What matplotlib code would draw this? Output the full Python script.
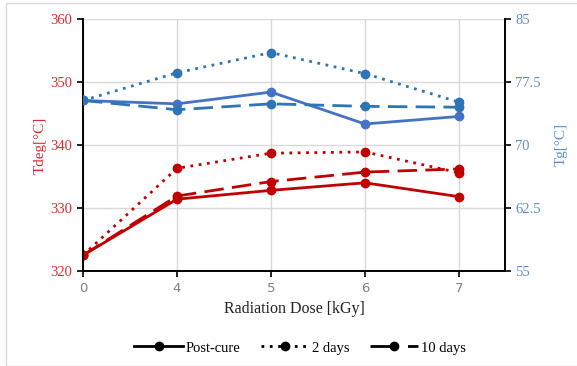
import matplotlib
matplotlib.use("Agg")
import matplotlib.pyplot as plt
from matplotlib.lines import Line2D
from matplotlib.patches import Rectangle

doses = ["0", "4", "5", "6", "7"]
tdeg_postcure = [322.5, 331.4, 332.8, 334.0, 331.8]
tdeg_2days = [322.5, 336.3, 338.7, 338.9, 335.6]
tdeg_10days = [322.5, 331.9, 334.2, 335.7, 336.2]
tg_postcure = [75.3, 74.9, 76.3, 72.5, 73.4]
tg_2days = [75.3, 78.6, 81.0, 78.5, 75.1]
tg_10days = [75.3, 74.2, 74.9, 74.6, 74.5]
left_ticks = [320, 330, 340, 350, 360]
right_ticks = [55, 62.5, 70, 77.5, 85]
right_tick_labels = ["55", "62.5", "70", "77.5", "85"]
legend_labels = ["Post-cure", "2 days", "10 days"]

SERIF = "Liberation Serif"
RED = "#C00000"
RED_TXT = "#E0282E"
BLUE1 = "#4472C4"
BLUE2 = "#2E75B6"
BLUE_TXT = "#5B8FCB"

fig = plt.figure(figsize=(5.77, 3.66), dpi=100)
fig.patches.append(Rectangle((6/577, 0), 1, 1 - 2.5/366, transform=fig.transFigure,
                             fill=False, edgecolor="#D9D9D9", lw=1.0))
ax = fig.add_axes([83/577, 1 - 271/366, (505 - 83)/577, (271 - 19)/366])
ax2 = ax.twinx()

x = list(range(len(doses)))
ms = 6
lw = 2.0
ax.plot(x, tdeg_postcure, color=RED, lw=lw, marker="o", ms=ms, zorder=3)
ax.plot(x, tdeg_2days, color=RED, lw=lw, ls=(0, (1, 2)), marker="o", ms=ms, zorder=3)
ax.plot(x, tdeg_10days, color=RED, lw=lw, ls=(0, (7, 3)), marker="o", ms=ms, zorder=3)
ax2.plot(x, tg_postcure, color=BLUE1, lw=lw, marker="o", ms=ms, zorder=3)
ax2.plot(x, tg_2days, color=BLUE2, lw=lw, ls=(0, (1, 2)), marker="o", ms=ms, zorder=3)
ax2.plot(x, tg_10days, color=BLUE2, lw=lw, ls=(0, (7, 3)), marker="o", ms=ms, zorder=3)

ax.set_xlim(0, 4.49)
ax.set_ylim(320, 360)
ax2.set_ylim(55, 85)
ax.set_xticks(x)
ax.set_xticklabels(doses, color="#808080", fontsize=9.5, family="DejaVu Sans")
ax.set_yticks(left_ticks)
ax.set_yticklabels([str(v) for v in left_ticks], color=RED_TXT, fontsize=10.5, family=SERIF)
ax2.set_yticks(right_ticks)
ax2.set_yticklabels(right_tick_labels, color=BLUE_TXT, fontsize=10.5, family=SERIF)

ax.grid(True, color="#D9D9D9", lw=1.0, zorder=0)
ax.set_axisbelow(True)
for a in (ax, ax2):
    a.spines["top"].set_visible(False)
    for s in ("left", "right", "bottom"):
        a.spines[s].set_color("black")
        a.spines[s].set_linewidth(1.2)
    a.tick_params(direction="out", length=4, width=1.2, color="black")
ax.tick_params(axis="x", pad=4)

ax.set_ylabel("Tdeg[°C]", color=RED_TXT, fontsize=11, family=SERIF, labelpad=3)
ax2.set_ylabel("Tg[°C]", color=BLUE_TXT, fontsize=11, family=SERIF, labelpad=10)
ax.set_xlabel("Radiation Dose [kGy]", fontsize=11.5, family=SERIF, color="#222222", labelpad=4)

handles = [
    Line2D([], [], color="black", lw=2, marker="o", ms=6),
    Line2D([], [], color="black", lw=2, ls=(0, (1, 2)), marker="o", ms=6),
    Line2D([], [], color="black", lw=2, ls=(0, (10, 3.5)), marker="o", ms=6),
]
fig.legend(handles, legend_labels, loc="center", bbox_to_anchor=(0.52, 1 - 348/366),
           ncol=3, frameon=False, prop={"family": SERIF, "size": 10.5},
           handlelength=3.3, handletextpad=0.2, columnspacing=1.4)

fig.savefig("out.png", dpi=100)
